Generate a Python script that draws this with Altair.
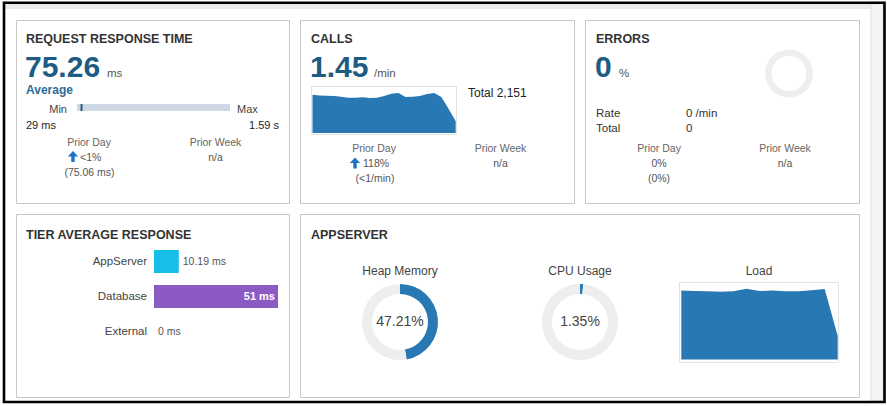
import altair as alt
import pandas as pd

# ---------------- data ----------------
rrt_avg = 75.26
rrt_min = 29
rrt_max = 1590
rrt_prior_day_pct = "<1%"
rrt_prior_day_val = 75.06

calls_rate = 1.45
calls_total = 2151
calls_prior_day_pct = "118%"
calls_prior_day_val = "(<1/min)"
calls_spark = [1.63, 1.60, 1.59, 1.57, 1.54, 1.50, 1.50, 1.52, 1.49, 1.50, 1.57,
               1.67, 1.70, 1.53, 1.54, 1.57, 1.66, 1.70, 1.53, 1.03, 0.50]

errors_pct = 0
errors_rate = 0
errors_total = 0

tiers = ["AppServer", "Database", "External"]
tier_ms = [10.19, 51, 0]
tier_colors = ["#17bfe8", "#8b5bc3", "#9e9e9e"]

heap_pct = 47.21
cpu_pct = 1.35
load_spark = [1.79, 1.78, 1.77, 1.76, 1.77, 1.84, 1.78, 1.79, 1.77, 1.77, 1.80, 1.83, 0.61]

# ---------------- styles ----------------
FONT = "Liberation Sans"
BLUE = "#2878b4"
NUM = "#1d5c82"
AVG = "#2d6d99"
RING = "#eeeeee"
ONE = alt.Data(values=[{"k": 0}])


def txt(s, x, y, size=11, color="#333", weight="normal", align="left", baseline="alphabetic"):
    return alt.Chart(ONE).mark_text(
        fontSize=size, color=color, fontWeight=weight, align=align, baseline=baseline, font=FONT
    ).encode(x=alt.value(x), y=alt.value(y), text=alt.value(s))


def box(x0, y0, x1, y1, stroke="#c6c6c6", fill="#ffffff", sw=1, fo=1):
    return alt.Chart(ONE).mark_rect(stroke=stroke, fill=fill, strokeWidth=sw, fillOpacity=fo).encode(
        x=alt.value(x0), x2=alt.value(x1), y=alt.value(y0), y2=alt.value(y1)
    )


ARROW = "M0,-1L0.95,0L0.32,0L0.32,1L-0.32,1L-0.32,0L-0.95,0Z"


def arrow(x, y):
    return alt.Chart(ONE).mark_point(shape=ARROW, filled=True, size=120, color="#1f74c2", opacity=1).encode(
        x=alt.value(x), y=alt.value(y)
    )


def donut(pct, cx, cy, r0, r1, fg, tick=False):
    df = pd.DataFrame({"part": ["used", "free"], "value": [pct, 100 - pct], "idx": [0, 1]})
    kw = dict(innerRadius=r0, outerRadius=r1)
    enc = dict(
        theta=alt.Theta("value:Q", stack=True, scale=alt.Scale(domain=[0, 100])),
        order=alt.Order("idx:Q"),
        color=alt.Color("part:N", scale=alt.Scale(domain=["used", "free"], range=[fg, RING]), legend=None),
        x=alt.value(cx),
        y=alt.value(cy),
    )
    if tick:
        kw.update(stroke="#c4c4c4", strokeWidth=1.2)
        enc["strokeOpacity"] = alt.condition("datum.part == 'used'", alt.value(1), alt.value(0))
    return alt.Chart(df).mark_arc(**kw).encode(**enc)


def spark(values, x0, x1, ybot, ytop):
    df = pd.DataFrame({"t": list(range(len(values))), "v": values})
    return alt.Chart(df).mark_area(color=BLUE, interpolate="linear").encode(
        x=alt.X("t:Q", scale=alt.Scale(domain=[0, len(values) - 1], range=[x0, x1], nice=False, zero=False), axis=None),
        y=alt.Y("v:Q", scale=alt.Scale(domain=[0, 2], range=[ybot, ytop], nice=False), axis=None),
    )


layers = []

# page background bits
layers += [
    box(5, 4, 883, 9, stroke="#ebebeb", fill="#ebebeb", sw=0),
    box(871, 4, 883, 401, stroke="#dedede", fill="#f4f4f4", sw=1),
]

# panels
layers += [
    box(16.5, 20.5, 289.5, 203.5),
    box(300.5, 20.5, 574.5, 203.5),
    box(585.5, 20.5, 859.5, 203.5),
    box(16.5, 214.5, 289.5, 397.5),
    box(300.5, 214.5, 859.5, 397.5),
]

# ---- Panel 1: Request response time ----
mm_df = pd.DataFrame({"lo": [rrt_min], "hi": [rrt_max], "avg": [rrt_avg]})
mm_scale = alt.Scale(domain=[rrt_min, rrt_max], range=[77, 230], nice=False, zero=False)
mm_track = alt.Chart(mm_df).mark_rect(color="#cfd8e5").encode(
    x=alt.X("lo:Q", scale=mm_scale, axis=None), x2="hi:Q", y=alt.value(104), y2=alt.value(111)
)
mm_mark = alt.Chart(mm_df).mark_rule(color="#2c5a88", strokeWidth=2).encode(
    x=alt.X("avg:Q", scale=mm_scale, axis=None), y=alt.value(104), y2=alt.value(111)
)
layers += [
    txt("REQUEST RESPONSE TIME", 26, 43, 12.5, "#333", "bold"),
    txt(f"{rrt_avg:.2f}", 25, 77, 30, NUM, "bold"),
    txt("ms", 107, 77, 11.5, "#555"),
    txt("Average", 26, 94, 12, AVG, "bold"),
    txt("Min", 67, 112.5, 11, "#444", align="right"),
    txt("Max", 237, 112.5, 11, "#444"),
    alt.layer(mm_track, mm_mark),
    txt(f"{rrt_min} ms", 26, 129, 11, "#222"),
    txt(f"{rrt_max / 1000:.2f} s", 279, 129, 11, "#222", align="right"),
    txt("Prior Day", 89, 146, 10.5, "#666", align="center"),
    arrow(73, 156.5),
    txt(rrt_prior_day_pct, 80, 160.5, 10.5, "#555"),
    txt(f"({rrt_prior_day_val:.2f} ms)", 89.5, 175.5, 10.5, "#555", align="center"),
    txt("Prior Week", 215.5, 146, 10.5, "#666", align="center"),
    txt("n/a", 215.5, 160.5, 10.5, "#555", align="center"),
]

# ---- Panel 2: Calls ----
layers += [
    txt("CALLS", 311, 43, 12.5, "#333", "bold"),
    txt(f"{calls_rate:.2f}", 310, 77, 30, NUM, "bold"),
    txt("/min", 374, 77, 11.5, "#555"),
    box(311.5, 86.5, 456.5, 134.5, stroke="#e2e2e2", fill="#ffffff"),
    spark(calls_spark, 312.5, 455.7, 133, 86),
    txt(f"Total {calls_total:,}", 468, 97, 12, "#222"),
    txt("Prior Day", 374, 152, 10.5, "#666", align="center"),
    arrow(355, 163),
    txt(calls_prior_day_pct, 363, 167, 10.5, "#555"),
    txt(calls_prior_day_val, 375, 182, 10.5, "#555", align="center"),
    txt("Prior Week", 500.5, 152, 10.5, "#666", align="center"),
    txt("n/a", 500.5, 167, 10.5, "#555", align="center"),
]

# ---- Panel 3: Errors ----
layers += [
    txt("ERRORS", 596, 43, 12.5, "#333", "bold"),
    txt(f"{errors_pct}", 595, 77, 30, NUM, "bold"),
    txt("%", 619, 77, 11.5, "#555"),
    donut(errors_pct, 789, 73.5, 17.5, 24, "#c4c4c4", tick=True),
    txt("Rate", 596, 117, 11.5, "#333"),
    txt(f"{errors_rate} /min", 686, 117, 11.5, "#333"),
    txt("Total", 596, 131.5, 11.5, "#333"),
    txt(f"{errors_total}", 686, 131.5, 11.5, "#333"),
    txt("Prior Day", 659, 152, 10.5, "#666", align="center"),
    txt("0%", 659, 167, 10.5, "#555", align="center"),
    txt("(0%)", 659, 182, 10.5, "#555", align="center"),
    txt("Prior Week", 785, 152, 10.5, "#666", align="center"),
    txt("n/a", 785, 167, 10.5, "#555", align="center"),
]

# ---- Panel 4: Tier average response ----
tier_df = pd.DataFrame({"tier": tiers, "ms": tier_ms, "color": tier_colors})
tx = alt.Scale(domain=[0, max(tier_ms)], range=[154, 278], nice=False)
ty = alt.Scale(domain=tiers, range=[244, 349], paddingInner=0.343, paddingOuter=0.1715)
tbase = alt.Chart(tier_df).transform_calculate(label="datum.ms + ' ms'")
X = alt.X("ms:Q", scale=tx, axis=None)
Y = alt.Y("tier:N", scale=ty, axis=None)
t_bars = tbase.mark_bar().encode(x=X, y=Y, color=alt.Color("color:N", scale=None))
t_names = tbase.mark_text(align="right", baseline="middle", fontSize=11.5, color="#444", font=FONT).encode(
    x=alt.value(147), y=Y, text="tier:N"
)
t_out = tbase.transform_filter("datum.ms < 40").mark_text(
    align="left", baseline="middle", dx=4, fontSize=10.5, color="#555", font=FONT
).encode(x=X, y=Y, text="label:N")
t_in = tbase.transform_filter("datum.ms >= 40").mark_text(
    align="right", baseline="middle", dx=-3, fontSize=11, color="#ffffff", fontWeight="bold", font=FONT
).encode(x=X, y=Y, text="label:N")
layers += [
    txt("TIER AVERAGE RESPONSE", 26, 239, 12.5, "#333", "bold"),
    alt.layer(t_bars, t_names, t_out, t_in),
]

# ---- Panel 5: AppServer ----
layers += [
    txt("APPSERVER", 311, 239, 12.5, "#333", "bold"),
    txt("Heap Memory", 400, 275, 12, "#444", align="center"),
    donut(heap_pct, 400, 322, 28, 38, BLUE),
    txt(f"{heap_pct:.2f}%", 400, 322, 14, "#444", align="center", baseline="middle"),
    txt("CPU Usage", 580, 275, 12, "#444", align="center"),
    donut(cpu_pct, 580, 322, 28, 38, BLUE),
    txt(f"{cpu_pct:.2f}%", 580, 322, 14, "#444", align="center", baseline="middle"),
    txt("Load", 759, 275, 12, "#444", align="center"),
    box(679.5, 282.5, 838.5, 362.5, stroke="#e2e2e2", fill="#ffffff"),
    spark(load_spark, 681.3, 837.7, 359.5, 282.5),
]

# outer frame
layers.append(box(4, 2.8, 884.5, 402, stroke="#000000", fill="#ffffff", sw=2.6, fo=0))

chart = (
    alt.layer(*layers)
    .resolve_scale(x="independent", y="independent", theta="independent", color="independent")
    .properties(width=887, height=406, autosize=alt.AutoSizeParams(type="none"), padding=0, background="white")
    .configure_view(stroke=None)
)

chart.save("out.html", embed_options={"renderer": "svg", "actions": False})
